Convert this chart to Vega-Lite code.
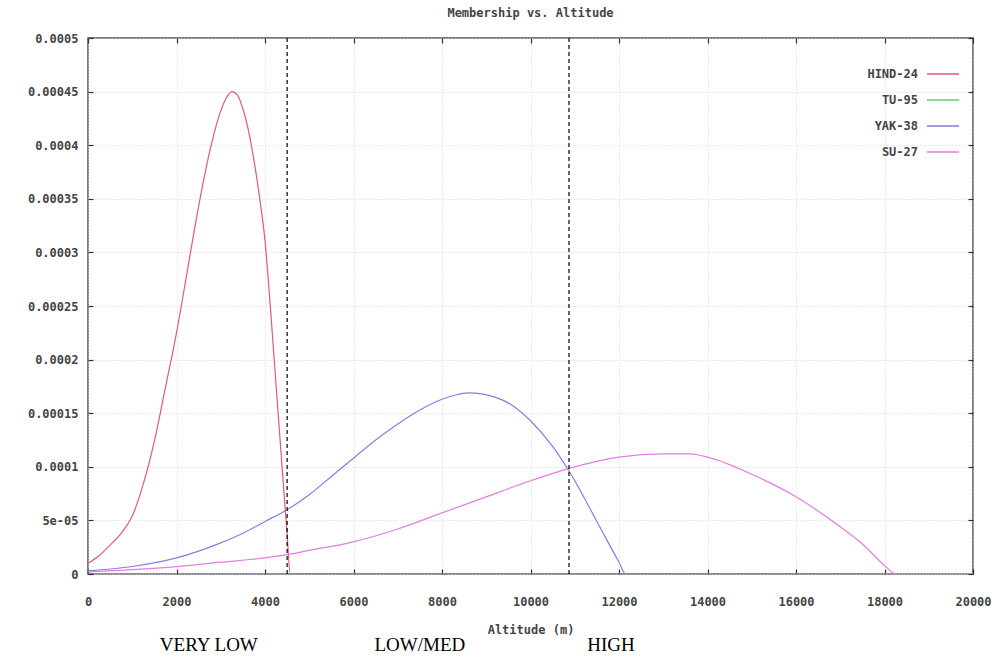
{
  "$schema": "https://vega.github.io/schema/vega-lite/v6.json",
  "width": 885,
  "height": 536,
  "autosize": {"type": "none"},
  "padding": {"left": 88, "top": 38, "right": 24, "bottom": 97},
  "background": "white",
  "title": {
    "text": "Membership vs. Altitude",
    "font": "DejaVu Sans Mono",
    "fontSize": 12,
    "fontWeight": "bold",
    "color": "#444444",
    "offset": 12
  },
  "config": {
    "view": {"stroke": "#505050", "strokeWidth": 1.5},
    "axis": {
      "domain": false,
      "grid": true,
      "gridColor": "#d6d6d6",
      "gridDash": [1, 2],
      "gridWidth": 1,
      "tickColor": "#303030",
      "tickSize": -5,
      "tickWidth": 1.2,
      "labelFont": "DejaVu Sans Mono",
      "labelFontSize": 12,
      "labelFontWeight": "bold",
      "labelColor": "#444444",
      "titleFont": "DejaVu Sans Mono",
      "titleFontSize": 12,
      "titleFontWeight": "bold",
      "titleColor": "#444444"
    }
  },
  "datasets": {
    "curves": [
      {"series": "TU-95", "alt": 0, "v": 0},
      {"series": "TU-95", "alt": 20000, "v": 0},
      {"series": "HIND-24", "alt": 0, "v": 0.00001},
      {"series": "HIND-24", "alt": 250, "v": 0.000017},
      {"series": "HIND-24", "alt": 500, "v": 0.000027},
      {"series": "HIND-24", "alt": 750, "v": 0.000038},
      {"series": "HIND-24", "alt": 1000, "v": 0.000054},
      {"series": "HIND-24", "alt": 1250, "v": 0.000084},
      {"series": "HIND-24", "alt": 1500, "v": 0.000124},
      {"series": "HIND-24", "alt": 1750, "v": 0.000174},
      {"series": "HIND-24", "alt": 2000, "v": 0.000225},
      {"series": "HIND-24", "alt": 2250, "v": 0.000284},
      {"series": "HIND-24", "alt": 2500, "v": 0.000343},
      {"series": "HIND-24", "alt": 2750, "v": 0.000394},
      {"series": "HIND-24", "alt": 3000, "v": 0.000432},
      {"series": "HIND-24", "alt": 3125, "v": 0.000444},
      {"series": "HIND-24", "alt": 3250, "v": 0.00045},
      {"series": "HIND-24", "alt": 3375, "v": 0.000447},
      {"series": "HIND-24", "alt": 3500, "v": 0.000434},
      {"series": "HIND-24", "alt": 3625, "v": 0.000414},
      {"series": "HIND-24", "alt": 3750, "v": 0.000386},
      {"series": "HIND-24", "alt": 3875, "v": 0.000352},
      {"series": "HIND-24", "alt": 4000, "v": 0.000311},
      {"series": "HIND-24", "alt": 4125, "v": 0.000247},
      {"series": "HIND-24", "alt": 4250, "v": 0.000176},
      {"series": "HIND-24", "alt": 4375, "v": 0.000106},
      {"series": "HIND-24", "alt": 4500, "v": 0.000037},
      {"series": "HIND-24", "alt": 4570, "v": 0},
      {"series": "HIND-24", "alt": 20000, "v": 0},
      {"series": "YAK-38", "alt": 0, "v": 0.000003},
      {"series": "YAK-38", "alt": 1000, "v": 0.000007},
      {"series": "YAK-38", "alt": 2000, "v": 0.000015},
      {"series": "YAK-38", "alt": 3000, "v": 0.000029},
      {"series": "YAK-38", "alt": 3500, "v": 0.000038},
      {"series": "YAK-38", "alt": 4000, "v": 0.000049},
      {"series": "YAK-38", "alt": 4500, "v": 0.00006},
      {"series": "YAK-38", "alt": 5000, "v": 0.000074},
      {"series": "YAK-38", "alt": 5500, "v": 0.000091},
      {"series": "YAK-38", "alt": 6000, "v": 0.000108},
      {"series": "YAK-38", "alt": 6500, "v": 0.000125},
      {"series": "YAK-38", "alt": 7000, "v": 0.00014},
      {"series": "YAK-38", "alt": 7500, "v": 0.000153},
      {"series": "YAK-38", "alt": 8000, "v": 0.000163},
      {"series": "YAK-38", "alt": 8300, "v": 0.000167},
      {"series": "YAK-38", "alt": 8600, "v": 0.000169},
      {"series": "YAK-38", "alt": 8900, "v": 0.000168},
      {"series": "YAK-38", "alt": 9200, "v": 0.000165},
      {"series": "YAK-38", "alt": 9600, "v": 0.000157},
      {"series": "YAK-38", "alt": 10000, "v": 0.000143},
      {"series": "YAK-38", "alt": 10500, "v": 0.000119},
      {"series": "YAK-38", "alt": 11000, "v": 0.000087},
      {"series": "YAK-38", "alt": 11500, "v": 0.000049},
      {"series": "YAK-38", "alt": 12000, "v": 0.000011},
      {"series": "YAK-38", "alt": 12150, "v": 0},
      {"series": "YAK-38", "alt": 20000, "v": 0},
      {"series": "SU-27", "alt": 0, "v": 0.000002},
      {"series": "SU-27", "alt": 1000, "v": 0.000004},
      {"series": "SU-27", "alt": 2000, "v": 0.0000068},
      {"series": "SU-27", "alt": 3000, "v": 0.000011},
      {"series": "SU-27", "alt": 4000, "v": 0.000015},
      {"series": "SU-27", "alt": 4500, "v": 0.000018},
      {"series": "SU-27", "alt": 5000, "v": 0.000022},
      {"series": "SU-27", "alt": 6000, "v": 0.00003},
      {"series": "SU-27", "alt": 7000, "v": 0.000042},
      {"series": "SU-27", "alt": 8000, "v": 0.000057},
      {"series": "SU-27", "alt": 9000, "v": 0.000072},
      {"series": "SU-27", "alt": 10000, "v": 0.000087},
      {"series": "SU-27", "alt": 11000, "v": 0.0001},
      {"series": "SU-27", "alt": 12000, "v": 0.000109},
      {"series": "SU-27", "alt": 13000, "v": 0.000112},
      {"series": "SU-27", "alt": 13600, "v": 0.000112},
      {"series": "SU-27", "alt": 14000, "v": 0.000109},
      {"series": "SU-27", "alt": 15000, "v": 0.000093},
      {"series": "SU-27", "alt": 16000, "v": 0.000072},
      {"series": "SU-27", "alt": 17000, "v": 0.000044},
      {"series": "SU-27", "alt": 17500, "v": 0.000028},
      {"series": "SU-27", "alt": 18000, "v": 0.000008},
      {"series": "SU-27", "alt": 18250, "v": 0},
      {"series": "SU-27", "alt": 20000, "v": 0}
    ],
    "bounds": [
      {"alt": 4500},
      {"alt": 10870}
    ],
    "zones": [
      {"label": "VERY LOW", "alt": 2730},
      {"label": "LOW/MED", "alt": 7500},
      {"label": "HIGH", "alt": 11820}
    ]
  },
  "layer": [
    {
      "data": {"name": "curves"},
      "mark": {"type": "line", "strokeWidth": 1.2, "clip": true, "interpolate": "monotone"},
      "encoding": {
        "x": {
          "field": "alt",
          "type": "quantitative",
          "scale": {"domain": [0, 20000], "nice": false, "zero": false},
          "axis": {
            "orient": "bottom",
            "values": [0, 2000, 4000, 6000, 8000, 10000, 12000, 14000, 16000, 18000, 20000],
            "format": "d",
            "labelPadding": 27,
            "labelFlush": false,
            "labelOverlap": false,
            "title": "Altitude (m)",
            "titlePadding": 17
          }
        },
        "y": {
          "field": "v",
          "type": "quantitative",
          "scale": {"domain": [0, 0.0005], "nice": false},
          "axis": {
            "orient": "left",
            "values": [0, 0.00005, 0.0001, 0.00015, 0.0002, 0.00025, 0.0003, 0.00035, 0.0004, 0.00045, 0.0005],
            "labelExpr": "abs(datum.value - 0.00005) < 1e-9 ? '5e-05' : format(datum.value, '.5~f')",
            "labelPadding": 15,
            "labelOverlap": false,
            "labelFlush": false,
            "title": null
          }
        },
        "color": {
          "field": "series",
          "type": "nominal",
          "sort": ["HIND-24", "TU-95", "YAK-38", "SU-27"],
          "scale": {
            "domain": ["HIND-24", "TU-95", "YAK-38", "SU-27"],
            "range": ["#e25a74", "#66cc66", "#8080e2", "#e47ce4"]
          },
          "legend": {
            "orient": "none",
            "legendX": 838,
            "legendY": 19,
            "title": null,
            "symbolType": "stroke",
            "symbolSize": 1024,
            "symbolStrokeWidth": 1.5,
            "labelAlign": "right",
            "labelOffset": -42,
            "labelFont": "DejaVu Sans Mono",
            "labelFontSize": 12,
            "labelFontWeight": "bold",
            "labelColor": "#444444",
            "rowPadding": 3
          }
        },
        "detail": {"field": "series"}
      }
    },
    {
      "data": {"name": "bounds"},
      "mark": {"type": "rule", "color": "#000000", "strokeDash": [4, 3], "strokeWidth": 1.2},
      "encoding": {
        "x": {
          "field": "alt",
          "type": "quantitative",
          "axis": {
            "orient": "top",
            "values": [0, 2000, 4000, 6000, 8000, 10000, 12000, 14000, 16000, 18000, 20000],
            "labels": false,
            "grid": false,
            "title": null
          }
        }
      }
    },
    {
      "data": {"name": "zones"},
      "mark": {"type": "text", "font": "Liberation Serif", "fontSize": 19, "color": "#000000", "dy": 71, "baseline": "middle", "align": "center"},
      "encoding": {
        "x": {"field": "alt", "type": "quantitative", "axis": null},
        "y": {
          "datum": 0,
          "type": "quantitative",
          "axis": {
            "orient": "right",
            "values": [0, 0.00005, 0.0001, 0.00015, 0.0002, 0.00025, 0.0003, 0.00035, 0.0004, 0.00045, 0.0005],
            "labels": false,
            "grid": false,
            "title": null
          }
        },
        "text": {"field": "label"}
      }
    }
  ],
  "resolve": {"axis": {"x": "independent", "y": "independent"}}
}
